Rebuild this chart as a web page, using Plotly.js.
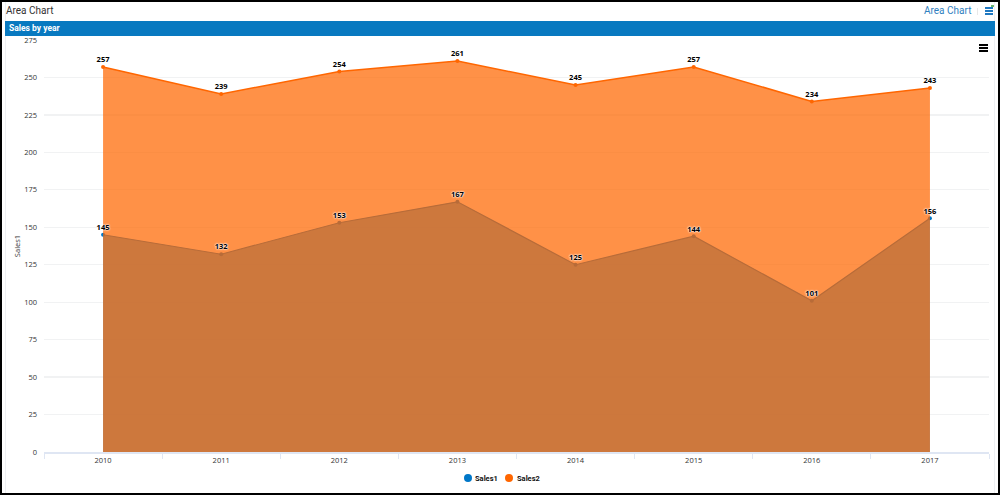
<!DOCTYPE html>
<html><head><meta charset="utf-8">
<script src="https://cdn.plot.ly/plotly-3.0.1.min.js"></script>
<style>
html,body{margin:0;padding:0;background:#fff;overflow:hidden}
body{width:1000px;height:495px;position:relative;font-family:Roboto,sans-serif}
.abs{position:absolute}
#chart{position:absolute;left:0;top:0;width:1000px;height:495px}
#frame{left:0;top:0;width:996px;height:491px;border:2px solid #000;pointer-events:none;z-index:5}
#bar i{display:block;height:2px;background:#000;margin-bottom:1px}
#ico i{display:block;height:2px;background:#1f78c1;margin-bottom:1px}
</style></head><body>
<div class="abs" style="left:5px;top:0;width:1px;height:495px;background:#eef0f3"></div>
<div class="abs" style="left:994px;top:0;width:1px;height:495px;background:#eef0f3"></div>
<div class="abs" style="left:6px;top:3px;font-size:10px;line-height:16px;color:#333">Area Chart</div>
<div class="abs" style="left:924px;top:3px;font-size:10px;line-height:16px;color:#2f7fc0">Area Chart</div>
<div class="abs" style="left:977px;top:8px;width:1px;height:7px;background:#e8e8e8"></div>
<div class="abs" id="ico" style="left:985px;top:7px;width:8px"><i></i><i></i><i></i></div>
<div class="abs" style="left:991px;top:5px;width:3px;height:2px;background:#6cb56c"></div>
<div class="abs" style="left:5px;top:21px;width:990px;height:15px;background:#0879c0;color:#fff;font-weight:700;font-size:8.5px;line-height:15px;text-indent:4px">Sales by year</div>
<div id="chart"></div>
<div class="abs" id="bar" style="left:979px;top:44px;width:9px;z-index:4"><i></i><i></i><i></i></div>
<div class="abs" id="frame"></div>
<script>
var years=["2010","2011","2012","2013","2014","2015","2016","2017"];
var sales1=[145,132,153,167,125,144,101,156];
var sales2=[257,239,254,261,245,257,234,243];
var yTicks=[0,25,50,75,100,125,150,175,200,225,250,275];
var blue="#0077c8", orange="#ff6600";
function area(name,vals,col,fill,lw){
  return {type:"scatter",mode:"lines+markers",name:name,x:years,y:vals,fill:"tozeroy",fillcolor:fill,
    line:{color:col,width:lw},marker:{color:col,size:4},showlegend:false,hoverinfo:"x+y+name"};
}
function labels(vals){
  return {type:"scatter",mode:"markers+text",x:years,y:vals,text:vals.map(String),textposition:"top center",
    marker:{size:3,opacity:0},
    textfont:{family:"Open Sans, sans-serif",size:7.5,color:"#000",weight:700,
      shadow:"0 0 2px #fff, 0 0 2px #fff, 0 0 1px #fff"},showlegend:false,hoverinfo:"skip"};
}
function legendItem(name,col){
  return {type:"scatter",mode:"markers",name:name,x:[null],y:[null],marker:{color:col,size:8},showlegend:true};
}
var data=[
  area("Sales1",sales1,blue,"rgba(0,128,205,0.7)",1.2),
  area("Sales2",sales2,orange,"rgba(255,102,0,0.72)",1.5),
  labels(sales1),labels(sales2),
  legendItem("Sales1",blue),legendItem("Sales2",orange)
];
var layout={
  width:1000,height:495,paper_bgcolor:"rgba(0,0,0,0)",plot_bgcolor:"rgba(0,0,0,0)",
  margin:{l:44,r:11,t:40,b:43,pad:0,autoexpand:false},
  font:{family:"Open Sans, sans-serif",size:7.5,color:"#333"},
  xaxis:{type:"category",range:[-0.5,7.5],tickson:"boundaries",ticks:"outside",ticklen:5,tickcolor:"#dfe6f3",tickwidth:1,
    showline:true,linecolor:"#dfe6f3",linewidth:1.5,showgrid:false,zeroline:false,tickfont:{size:7.5,color:"#333"},automargin:false},
  yaxis:{range:[0,275],tickvals:yTicks,ticktext:yTicks.map(String),gridcolor:"#f1f2f3",gridwidth:1.2,zeroline:false,showline:false,
    ticks:"",ticklabelstandoff:6,tickfont:{size:7.5,color:"#333"},title:{text:"Sales1",standoff:2,font:{size:7.5,color:"#333"}},automargin:false},
  showlegend:true,
  legend:{orientation:"h",x:0.4825,xanchor:"center",y:-0.063,yanchor:"middle",font:{family:"Roboto, sans-serif",size:7.5,color:"#111",weight:700},bgcolor:"rgba(0,0,0,0)",traceorder:"normal"}
};
var legendSpots=[[468,475],[509,517]];
Plotly.newPlot("chart",data,layout,{displayModeBar:false,staticPlot:true}).then(function(gd){
  var items=gd.querySelectorAll(".legend .traces");
  items.forEach(function(g,i){
    var pt=g.querySelector(".legendpoints path, .scatterpts");
    var txt=g.querySelector(".legendtext");
    if(!pt||!txt) return;
    var r=pt.getBoundingClientRect(), cx=(r.left+r.right)/2;
    var m=/translate\(([-\d.]+)[ ,]+([-\d.]+)\)/.exec(g.getAttribute("transform"));
    var dx=legendSpots[i][0]-cx;
    g.setAttribute("transform","translate("+(parseFloat(m[1])+dx)+","+m[2]+")");
    var tr=txt.getBoundingClientRect();
    txt.setAttribute("x",parseFloat(txt.getAttribute("x"))+(legendSpots[i][1]-tr.left));
  });
});
</script>
</body></html>
